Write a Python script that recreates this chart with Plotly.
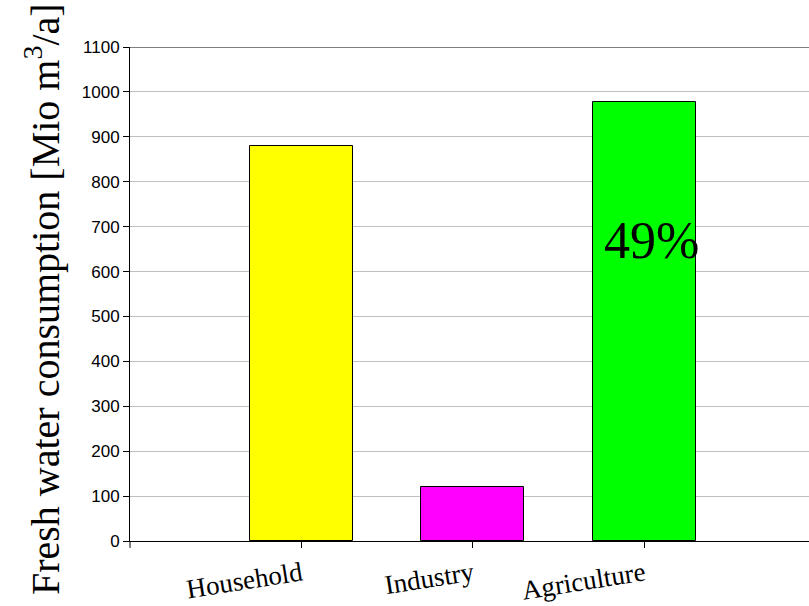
import plotly.graph_objects as go

categories = ["Household", "Industry", "Agriculture"]
positions = [1, 2, 3]
values = [880, 120, 978]
colors = ["#ffff00", "#ff00ff", "#00ff00"]
y_ticks = list(range(0, 1101, 100))
share_label = "49%"
share_value = 670

fig = go.Figure()
fig.add_trace(go.Bar(
    x=positions, y=values, width=0.6,
    marker=dict(color=colors, line=dict(color="black", width=1)),
    showlegend=False, hoverinfo="skip",
))

fig.add_annotation(x=3.04, y=share_value, xref="x", yref="y", text=share_label,
                   showarrow=False, font=dict(family="Liberation Serif", size=52, color="black"))

fig.add_annotation(x=-0.128, y=0.49, xref="paper", yref="paper", textangle=-90,
                   text="Fresh water consumption [Mio m<sup>3</sup>/a]", showarrow=False,
                   font=dict(family="Liberation Serif", size=40, color="black"),
                   xanchor="center", yanchor="middle")

fig.add_shape(type="line", xref="paper", yref="y", x0=0, x1=1, y0=1100, y1=1100,
              line=dict(color="black", width=1))
# tick mark at the start of the category axis
fig.add_shape(type="line", xref="paper", yref="paper", x0=0, x1=0, y0=0, y1=-0.014,
              line=dict(color="black", width=1))

fig.update_layout(
    width=809, height=606,
    margin=dict(l=130, r=0, t=47, b=65),
    plot_bgcolor="white", paper_bgcolor="white",
    bargap=0,
    xaxis=dict(range=[0, 3.96], tickvals=positions, ticktext=categories,
               tickangle=-9, ticks="outside", ticklen=6, tickcolor="black",
               showline=True, linecolor="black", linewidth=1, showgrid=False,
               zeroline=False, automargin=False,
               tickfont=dict(family="Liberation Serif", size=27, color="black")),
    yaxis=dict(range=[0, 1100], tickvals=y_ticks, ticks="outside", ticklen=6,
               tickcolor="black", showline=True, linecolor="black", linewidth=1,
               showgrid=True, gridcolor="#c0c0c0", gridwidth=1, zeroline=False,
               automargin=False,
               tickfont=dict(family="Liberation Sans", size=17, color="black")),
)

fig.write_html("out.html")
